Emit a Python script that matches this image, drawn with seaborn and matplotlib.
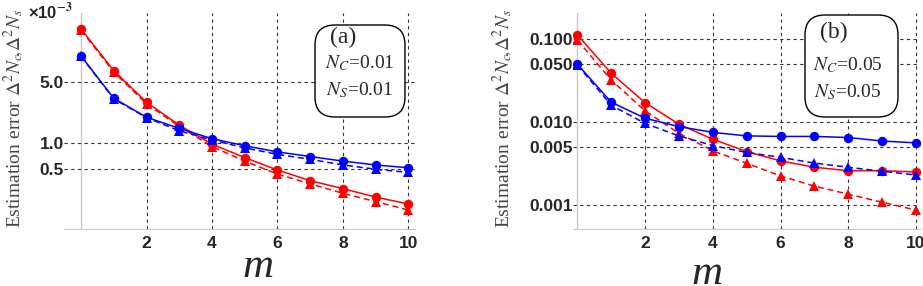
import numpy as np
import pandas as pd
import matplotlib
matplotlib.use('Agg')
import matplotlib.pyplot as plt
import seaborn as sns
from matplotlib.patches import FancyBboxPatch
from matplotlib.ticker import FixedLocator, NullFormatter

# --- data ---
m = list(range(11))

# panel (a), values in units of 1e-3
a_red_solid = [20.2, 6.73, 2.93, 1.60, 0.97, 0.68, 0.49, 0.37, 0.30, 0.24, 0.20]
a_red_dashed = [19.6, 6.5, 2.80, 1.55, 0.91, 0.62, 0.44, 0.34, 0.265, 0.213, 0.171]
a_blue_solid = [9.9, 3.25, 1.97, 1.47, 1.12, 0.93, 0.79, 0.70, 0.62, 0.56, 0.52]
a_blue_dashed = [9.8, 3.20, 1.95, 1.38, 1.08, 0.88, 0.74, 0.65, 0.56, 0.50, 0.46]
a_yticks = [0.5, 1.0, 5.0]
a_ytick_labels = ['0.5', '1.0', '5.0']

# panel (b)
b_red_solid = [0.112, 0.0386, 0.0171, 0.0094, 0.0062, 0.0044, 0.0034, 0.00285, 0.00259, 0.00259, 0.0025]
b_red_dashed = [0.097, 0.032, 0.0136, 0.0073, 0.0045, 0.00318, 0.00224, 0.00169, 0.00135, 0.00108, 0.00087]
b_blue_solid = [0.0496, 0.0173, 0.0111, 0.0088, 0.0075, 0.0068, 0.0067, 0.0067, 0.0065, 0.0059, 0.0056]
b_blue_dashed = [0.0485, 0.0159, 0.0096, 0.0068, 0.0052, 0.0043, 0.00375, 0.0032, 0.00285, 0.00255, 0.0023]
b_yticks = [0.001, 0.005, 0.010, 0.050, 0.100]
b_ytick_labels = ['0.001', '0.005', '0.010', '0.050', '0.100']

x_ticks = [2, 4, 6, 8, 10]
x_tick_labels = ['2', '4', '6', '8', '10']
RED = '#ff0000'
BLUE = '#0000ff'
SERIF = ['Liberation Serif', 'DejaVu Serif']

sns.set_style('white')
# tick labels pick up these defaults: bold sans
plt.rcParams['font.family'] = ['Liberation Sans', 'DejaVu Sans']
plt.rcParams['font.weight'] = 'bold'
plt.rcParams['xtick.labelsize'] = 12.5
plt.rcParams['ytick.labelsize'] = 12.5
plt.rcParams['mathtext.fontset'] = 'stix'

fig = plt.figure(figsize=(9.23, 2.86), dpi=100)
W, H = 923, 286


def add_axes_px(x0, x1, y_top, y_bot):
    return fig.add_axes([x0 / W, (H - y_bot) / H, (x1 - x0) / W, (y_bot - y_top) / H])


def px(x, y):
    return x / 100, (H - y) / 100


def draw_panel(ax, series, xlim, ylim, yticks, ylabels):
    for vals, color, ls, mk in series:
        df = pd.DataFrame({'m': m, 'v': vals})
        sns.lineplot(data=df, x='m', y='v', ax=ax, color=color, linestyle=ls,
                     marker=mk, markersize=6.8, markeredgewidth=0, linewidth=1.1)
    ax.set_yscale('log')
    ax.set_xlim(*xlim)
    ax.set_ylim(*ylim)
    ax.set_xlabel('')
    ax.set_ylabel('')
    ax.set_xticks(x_ticks, labels=x_tick_labels)
    ax.xaxis.set_minor_locator(FixedLocator(np.arange(0.5, 10.01, 0.5)))
    ax.set_yticks(yticks, labels=ylabels)
    ax.yaxis.set_minor_locator(FixedLocator([]))
    ax.yaxis.set_minor_formatter(NullFormatter())
    ax.grid(True, which='major', color='#333333', linestyle=(0, (3, 3)), linewidth=0.8)
    for s in ['top', 'right', 'left']:
        ax.spines[s].set_visible(False)
    ax.spines['bottom'].set_color('#c8c8c8')
    ax.axvline(0, color='#c8c8c8', linewidth=1.0, zorder=0.5)
    ax.tick_params(axis='x', which='major', direction='in', length=4, color='#aaaaaa', pad=5)
    ax.tick_params(axis='x', which='minor', direction='in', length=2.5, color='#aaaaaa')
    ax.tick_params(axis='y', which='both', length=0, pad=0)


ax_a = add_axes_px(64, 415, 13, 229)
draw_panel(ax_a,
           [(a_red_solid, RED, '-', 'o'), (a_red_dashed, RED, (0, (4, 2.5)), '^'),
            (a_blue_solid, BLUE, '-', 'o'), (a_blue_dashed, BLUE, (0, (4, 2.5)), '^')],
           (-0.52, 10.2), (0.1035, 30.8), a_yticks, a_ytick_labels)

ax_b = add_axes_px(573, 920, 13, 229)
draw_panel(ax_b,
           [(b_red_solid, RED, '-', 'o'), (b_red_dashed, RED, (0, (4, 2.5)), '^'),
            (b_blue_solid, BLUE, '-', 'o'), (b_blue_dashed, BLUE, (0, (4, 2.5)), '^')],
           (-0.13, 10.12), (0.000514, 0.2056), b_yticks, b_ytick_labels)

# exponent marker for panel (a), bold like the tick labels
fig.text(28 / W, 1 - 1 / H, r'×10$^{\mathbf{-3}}$', ha='left', va='top', fontsize=12)

# back to normal weight for the serif annotations (mathtext reads this at draw time)
plt.rcParams['font.weight'] = 'normal'

# axis labels
ylab = r'Estimation error $\Delta^2N_c\!,\!\Delta^2N_s$'
for xc in (14, 503):
    fig.text(xc / W, 1 - 118 / H, ylab, rotation=90, ha='center', va='center',
             fontsize=14, color='#444444', family=SERIF, fontweight='normal')
fig.text(258 / W, 1 - 277 / H, 'm', ha='center', va='baseline', fontsize=31,
         style='italic', family=SERIF, fontweight='normal')
fig.text(707 / W, 1 - 284 / H, 'm', ha='center', va='baseline', fontsize=31,
         style='italic', family=SERIF, fontweight='normal')

# parameter boxes
for (bx0, bx1, by0, by1), tag, val, tpos, l1, l2 in [
        ((315, 405, 25, 117), '(a)', '0.01', (343, 37), (360, 63), (360, 90)),
        ((805, 898, 15, 117), '(b)', '0.05', (834, 32), (848, 65), (848, 92))]:
    x0, y0 = px(bx0, by1)
    box = FancyBboxPatch((x0, y0), (bx1 - bx0) / 100, (by1 - by0) / 100,
                         boxstyle='round,pad=0,rounding_size=0.2',
                         transform=fig.dpi_scale_trans, facecolor='white',
                         edgecolor='black', linewidth=1.0, zorder=5)
    fig.patches.append(box)
    txt = dict(transform=fig.dpi_scale_trans, ha='center', va='center', zorder=6,
               family=SERIF, fontweight='normal')
    fig.text(*px(*tpos), tag, fontsize=17, **txt)
    fig.text(*px(*l1), r'$N_C$=' + val, fontsize=14, **txt)
    fig.text(*px(*l2), r'$N_S$=' + val, fontsize=14, **txt)

fig.savefig('out.png', dpi=100)
